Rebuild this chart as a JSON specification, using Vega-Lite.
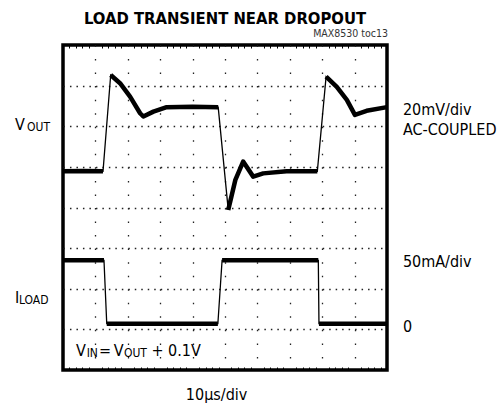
{
  "$schema": "https://vega.github.io/schema/vega-lite/v6.json",
  "width": 324,
  "height": 325,
  "autosize": {"type": "none"},
  "padding": {"left": 63, "top": 45, "right": 110, "bottom": 35},
  "background": "white",
  "config": {
    "view": {"stroke": "black", "strokeWidth": 3.5},
    "font": "DejaVu Sans Condensed"
  },
  "datasets": {
    "traces": [
      {"trace": "VOUT", "seg": 1, "t": 0, "v": 4.89},
      {"trace": "VOUT", "seg": 1, "t": 6, "v": 4.9},
      {"trace": "VOUT", "seg": 1, "t": 12.35, "v": 4.89},
      {"trace": "VOUT", "seg": 2, "t": 14.72, "v": 7.26},
      {"trace": "VOUT", "seg": 2, "t": 17.6, "v": 7.06},
      {"trace": "VOUT", "seg": 2, "t": 20.7, "v": 6.73},
      {"trace": "VOUT", "seg": 2, "t": 23.8, "v": 6.32},
      {"trace": "VOUT", "seg": 2, "t": 24.8, "v": 6.24},
      {"trace": "VOUT", "seg": 2, "t": 27.9, "v": 6.36},
      {"trace": "VOUT", "seg": 2, "t": 32.0, "v": 6.47},
      {"trace": "VOUT", "seg": 2, "t": 40.0, "v": 6.48},
      {"trace": "VOUT", "seg": 2, "t": 47.9, "v": 6.47},
      {"trace": "VOUT", "seg": 3, "t": 51.0, "v": 3.94},
      {"trace": "VOUT", "seg": 3, "t": 53.2, "v": 4.68},
      {"trace": "VOUT", "seg": 3, "t": 55.6, "v": 5.13},
      {"trace": "VOUT", "seg": 3, "t": 58.7, "v": 4.76},
      {"trace": "VOUT", "seg": 3, "t": 61.8, "v": 4.84},
      {"trace": "VOUT", "seg": 3, "t": 69.0, "v": 4.89},
      {"trace": "VOUT", "seg": 3, "t": 78.5, "v": 4.89},
      {"trace": "VOUT", "seg": 4, "t": 81.2, "v": 7.22},
      {"trace": "VOUT", "seg": 4, "t": 84.5, "v": 6.97},
      {"trace": "VOUT", "seg": 4, "t": 87.6, "v": 6.65},
      {"trace": "VOUT", "seg": 4, "t": 90.1, "v": 6.28},
      {"trace": "VOUT", "seg": 4, "t": 93.7, "v": 6.38},
      {"trace": "VOUT", "seg": 4, "t": 100, "v": 6.47},
      {"trace": "ILOAD", "seg": 5, "t": 0, "v": 2.7},
      {"trace": "ILOAD", "seg": 5, "t": 12.65, "v": 2.7},
      {"trace": "ILOAD", "seg": 6, "t": 13.5, "v": 1.14},
      {"trace": "ILOAD", "seg": 6, "t": 47.8, "v": 1.14},
      {"trace": "ILOAD", "seg": 7, "t": 49.1, "v": 2.7},
      {"trace": "ILOAD", "seg": 7, "t": 78.8, "v": 2.7},
      {"trace": "ILOAD", "seg": 8, "t": 79.0, "v": 1.14},
      {"trace": "ILOAD", "seg": 8, "t": 100, "v": 1.14}
    ],
    "labels": [
      {"text": "V", "t": -14.8, "v": 5.91},
      {"text": "I", "t": -14.8, "v": 1.65},
      {"text": "20mV/div", "t": 104.9, "v": 6.28},
      {"text": "AC-COUPLED", "t": 104.9, "v": 5.78},
      {"text": "50mA/div", "t": 104.9, "v": 2.54},
      {"text": "0", "t": 104.9, "v": 0.94},
      {"text": "V", "t": 4.0, "v": 0.345},
      {"text": "=", "t": 11.1, "v": 0.345},
      {"text": "V", "t": 15.7, "v": 0.345},
      {"text": "+ 0.1V", "t": 27.3, "v": 0.345}
    ],
    "subs": [
      {"text": "OUT", "t": -11.1, "v": 5.88},
      {"text": "LOAD", "t": -13.6, "v": 1.62},
      {"text": "IN", "t": 7.3, "v": 0.32},
      {"text": "OUT", "t": 18.8, "v": 0.32}
    ],
    "scale_note": [{"text": "10µs/div", "t": 47.4, "v": -0.74}],
    "heading": [{"text": "LOAD TRANSIENT NEAR DROPOUT", "t": 50, "v": 8.51}],
    "tag": [{"text": "MAX8530 toc13", "t": 100.3, "v": 8.19}]
  },
  "layer": [
    {
      "data": {"name": "traces"},
      "mark": {"type": "line", "color": "black", "strokeWidth": 1.3},
      "encoding": {
        "x": {
          "field": "t", "type": "quantitative",
          "scale": {"domain": [0, 100], "nice": false, "zero": false},
          "axis": {
            "orient": "bottom", "values": [10, 20, 30, 40, 50, 60, 70, 80, 90],
            "grid": true, "gridColor": "#222", "gridWidth": 1.3, "gridDash": [1.5, 12.04],
            "ticks": false, "labels": false, "domain": false, "title": null
          }
        },
        "y": {
          "field": "v", "type": "quantitative",
          "scale": {"domain": [0, 8], "nice": false, "zero": false},
          "axis": {
            "orient": "left", "values": [1, 2, 3, 4, 5, 6, 7],
            "grid": true, "gridColor": "#222", "gridWidth": 1.3, "gridDash": [1.5, 4.98],
            "ticks": false, "labels": false, "domain": false, "title": null
          }
        },
        "detail": {"field": "trace"}
      }
    },
    {
      "data": {"name": "traces"},
      "mark": {"type": "line", "color": "black", "strokeWidth": 4.5, "strokeJoin": "round"},
      "encoding": {
        "x": {
          "field": "t", "type": "quantitative",
          "scale": {"domain": [0, 100], "nice": false, "zero": false},
          "axis": {
            "orient": "top",
            "values": [2, 4, 6, 8, 12, 14, 16, 18, 22, 24, 26, 28, 32, 34, 36, 38, 42, 44, 46, 48, 52, 54, 56, 58, 62, 64, 66, 68, 72, 74, 76, 78, 82, 84, 86, 88, 92, 94, 96, 98],
            "grid": false, "ticks": true, "tickSize": -3, "tickColor": "black", "tickWidth": 1,
            "labels": false, "domain": false, "title": null
          }
        },
        "y": {
          "field": "v", "type": "quantitative",
          "scale": {"domain": [0, 8], "nice": false, "zero": false},
          "axis": null
        },
        "detail": {"field": "seg"}
      }
    },
    {
      "data": {"name": "labels"},
      "mark": {"type": "text", "align": "left", "baseline": "alphabetic", "fontSize": 16, "color": "black"},
      "encoding": {
        "x": {
          "field": "t", "type": "quantitative",
          "scale": {"domain": [0, 100], "nice": false, "zero": false},
          "axis": {
            "orient": "bottom",
            "values": [2, 4, 6, 8, 12, 14, 16, 18, 22, 24, 26, 28, 32, 34, 36, 38, 42, 44, 46, 48, 52, 54, 56, 58, 62, 64, 66, 68, 72, 74, 76, 78, 82, 84, 86, 88, 92, 94, 96, 98],
            "grid": false, "ticks": true, "tickSize": -3, "tickColor": "black", "tickWidth": 1,
            "labels": false, "domain": false, "title": null
          }
        },
        "y": {"field": "v", "type": "quantitative", "scale": {"domain": [0, 8], "nice": false, "zero": false}, "axis": null},
        "text": {"field": "text"}
      }
    },
    {
      "data": {"name": "subs"},
      "mark": {"type": "text", "align": "left", "baseline": "alphabetic", "fontSize": 12, "color": "black"},
      "encoding": {
        "x": {"field": "t", "type": "quantitative", "scale": {"domain": [0, 100], "nice": false, "zero": false}, "axis": null},
        "y": {"field": "v", "type": "quantitative", "scale": {"domain": [0, 8], "nice": false, "zero": false}, "axis": null},
        "text": {"field": "text"}
      }
    },
    {
      "data": {"name": "scale_note"},
      "mark": {"type": "text", "align": "center", "baseline": "alphabetic", "fontSize": 16, "color": "black"},
      "encoding": {
        "x": {"field": "t", "type": "quantitative", "scale": {"domain": [0, 100], "nice": false, "zero": false}, "axis": null},
        "y": {"field": "v", "type": "quantitative", "scale": {"domain": [0, 8], "nice": false, "zero": false}, "axis": null},
        "text": {"field": "text"}
      }
    },
    {
      "data": {"name": "heading"},
      "mark": {"type": "text", "align": "center", "baseline": "alphabetic", "fontSize": 16.5, "fontWeight": "bold", "color": "black"},
      "encoding": {
        "x": {"field": "t", "type": "quantitative", "scale": {"domain": [0, 100], "nice": false, "zero": false}, "axis": null},
        "y": {"field": "v", "type": "quantitative", "scale": {"domain": [0, 8], "nice": false, "zero": false}, "axis": null},
        "text": {"field": "text"}
      }
    },
    {
      "data": {"name": "tag"},
      "mark": {"type": "text", "align": "right", "baseline": "alphabetic", "fontSize": 10.5, "color": "#333"},
      "encoding": {
        "x": {"field": "t", "type": "quantitative", "scale": {"domain": [0, 100], "nice": false, "zero": false}, "axis": null},
        "y": {"field": "v", "type": "quantitative", "scale": {"domain": [0, 8], "nice": false, "zero": false}, "axis": null},
        "text": {"field": "text"}
      }
    }
  ],
  "resolve": {"axis": {"x": "independent", "y": "independent"}}
}
